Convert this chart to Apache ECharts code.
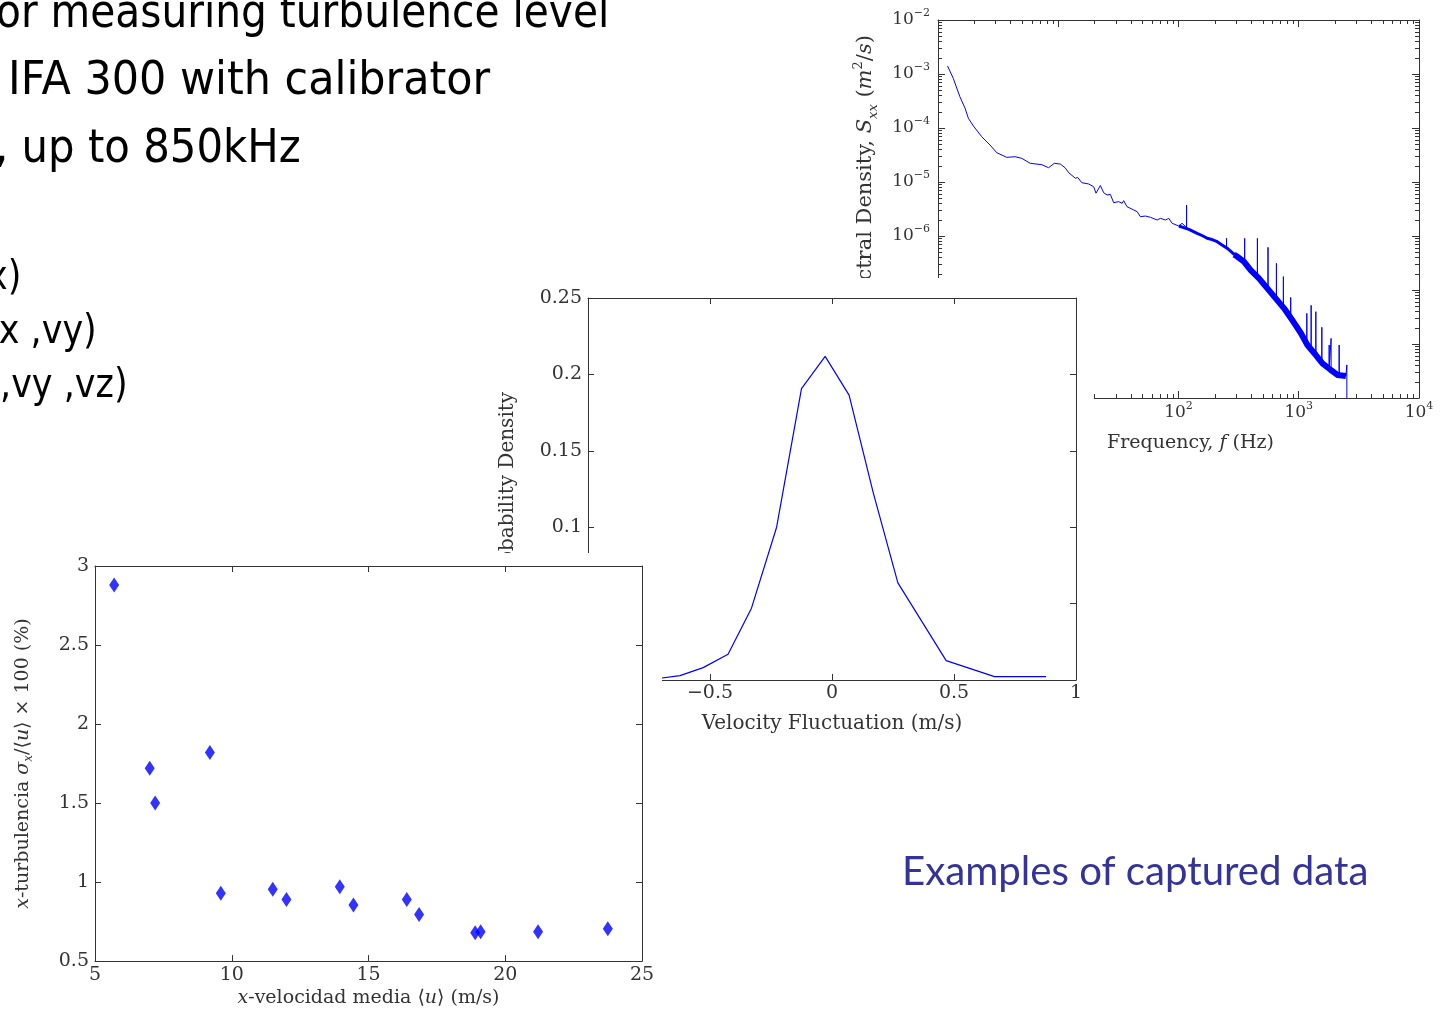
<!DOCTYPE html>
<html>
<head>
<meta charset="utf-8">
<title>Turbulence measurements</title>
<script src="https://cdn.jsdelivr.net/npm/echarts@6/dist/echarts.min.js"></script>
<style>
  html, body { margin: 0; padding: 0; background: #fff; width: 1445px; height: 1013px; overflow: hidden; }
  .panel { position: absolute; }
  #slide    { left: 0;     top: 0;     width: 1445px; height: 1013px; z-index: 0; }
  #spectrum { left: 840px; top: 0;     width: 605px;  height: 470px;  z-index: 1; }
  #pdf      { left: 490px; top: 278px; width: 604px;  height: 470px;  z-index: 2; background: #fff; }
  #turb     { left: 0;     top: 553px; width: 662px;  height: 460px;  z-index: 3; background: #fff; }
</style>
</head>
<body>
<div id="slide" class="panel"></div>
<div id="spectrum" class="panel"></div>
<div id="pdf" class="panel"></div>
<div id="turb" class="panel"></div>
<script>
// ---------- data ----------
// turbulence intensity vs. mean velocity
const turbVelocity  = [5.7, 7.0, 7.2, 9.2, 9.6, 11.5, 12.0, 13.95, 14.45, 16.4, 16.85, 18.9, 19.1, 21.2, 23.75];
const turbIntensity = [2.88, 1.72, 1.50, 1.82, 0.93, 0.955, 0.89, 0.97, 0.855, 0.89, 0.795, 0.68, 0.685, 0.685, 0.705];

// probability density of the velocity fluctuation
const pdfVelocity = [-0.72, -0.623, -0.528, -0.426, -0.33, -0.227, -0.125, -0.028, 0.07, 0.17, 0.27, 0.468, 0.666, 0.877];
const pdfDensity  = [0.0008, 0.0029, 0.0081, 0.0169, 0.047, 0.100, 0.1907, 0.2118, 0.1864, 0.122, 0.0636, 0.0127, 0.0022, 0.0022];

// power spectral density [f (Hz), Sxx (m^2/s)], including the narrow spikes
const spectrumTrace = [
  [1.20,1.41e-3],[1.34,8.3e-4],[1.52,3.8e-4],[1.68,2.32e-4],[1.79,1.51e-4],[1.97,1.09e-4],
  [2.31,6.9e-5],[2.71,4.84e-5],[3.08,3.49e-5],[3.73,2.86e-5],[4.39,2.94e-5],[4.98,2.74e-5],
  [5.85,2.22e-5],[7.31,2.09e-5],[8.30,1.84e-5],[8.69,1.98e-5],[9.27,2.22e-5],[10.4,2.15e-5],
  [11.4,1.84e-5],[12.2,1.49e-5],[13.9,1.17e-5],[14.5,1.22e-5],[15.7,9.7e-6],[17.9,9.2e-6],
  [19.7,8.2e-6],[20.6,6.2e-6],[22.4,8.6e-6],[23.9,6.3e-6],[25.5,5.75e-6],[27.1,5.9e-6],
  [28.9,4.14e-6],[31.8,4.33e-6],[34.0,4.03e-6],[35.0,4.51e-6],[37.3,3.49e-6],[42.5,3.03e-6],
  [45.3,2.82e-6],[48.2,2.28e-6],[53.1,2.34e-6],[58.5,2.22e-6],[66.4,1.98e-6],[70.8,2.12e-6],
  [78.0,1.98e-6],[83.0,2.12e-6],[88.5,1.72e-6],[100.7,1.53e-6],[107,1.72e-6],
  [116.7,1.45e-6],[116.7,3.75e-6],[116.7,1.45e-6],[122,1.33e-6],[143,1.12e-6],[173,9.06e-7],
  [210,7.85e-7],[251,6.0e-7],[251,9.06e-7],[251,6.0e-7],[308,4.17e-7],
  [355,3.3e-7],[355,9.06e-7],[355,3.3e-7],[398,2.34e-7],
  [453,1.8e-7],[453,9.06e-7],[453,1.8e-7],
  [555,1.04e-7],[555,6.17e-7],[555,1.04e-7],
  [652,6.8e-8],[652,3.12e-7],[652,6.8e-8],
  [745,4.7e-8],[745,1.77e-7],[745,4.7e-8],
  [857,3.0e-8],[857,7.3e-8],[857,3.0e-8],[1040,1.6e-8],
  [1167,1.0e-8],[1167,3.7e-8],[1167,1.0e-8],
  [1268,7.9e-9],[1268,5.2e-8],[1268,7.9e-9],
  [1387,6.25e-9],[1387,3.97e-8],[1387,6.25e-9],
  [1556,4.5e-9],[1556,2.04e-8],[1556,4.5e-9],
  [1791,3.47e-9],[1791,9.6e-9],[1791,3.47e-9],
  [1858,3.3e-9],[1858,1.27e-8],[1858,3.3e-9],
  [2168,2.64e-9],[2168,9.6e-9],[2168,2.64e-9],
  [2466,2.55e-9],[2512,4.1e-9],[2512,1.0e-9]
];
// centre of the dense noise band at higher frequencies
const spectrumBandNarrow = [
  [100.7,1.53e-6],[122,1.33e-6],[143,1.12e-6],[160,1.0e-6],[173,9.06e-7],[190,8.6e-7],
  [210,7.85e-7],[230,6.8e-7],[255,5.9e-7],[280,4.9e-7],[308,4.17e-7]
];
const spectrumBandWide = [
  [290,4.5e-7],[308,4.17e-7],[350,3.35e-7],[398,2.34e-7],[467,1.64e-7],[548,1.07e-7],
  [643,7.0e-8],[755,4.58e-8],[885,2.75e-8],[1040,1.6e-8],[1180,9.6e-9],[1387,6.25e-9],
  [1574,4.39e-9],[1849,3.3e-9],[2099,2.67e-9],[2466,2.55e-9]
];

// axis ranges
const freqMin = 1, freqMax = 1e4;
const densityMin = 1e-9, densityMax = 1e-2;

// ---------- shared styles ----------
const serif = 'DejaVu Serif';
const ink = '#333';
const boxLine = { show: true, onZero: false, lineStyle: { color: ink, width: 1 } };
const innerTick = len => ({ show: true, inside: true, length: len, lineStyle: { color: ink, width: 1 } });
const minusSign = v => String(v).replace('-', '\u2212');

// ---------- slide text ----------
const slideLine = (text, x, y, size, sx) => ({
  type: 'text', x: x, y: y, scaleX: sx,
  style: { text: text, fontFamily: 'DejaVu Sans', fontSize: size, fill: '#000', verticalAlign: 'middle' }
});
const slide = echarts.init(document.getElementById('slide'));
slide.setOption({
  animation: false,
  graphic: [
    slideLine('or measuring turbulence level', -4, 15, 47, 0.866),
    slideLine('IFA 300 with calibrator', 8, 82, 47, 0.913),
    slideLine(', up to 850kHz', -5, 150, 47, 0.89),
    slideLine('x)', -13, 279, 40, 0.875),
    slideLine('vx ,vy)', -22, 333, 40, 0.875),
    slideLine(',vy ,vz)', 0, 387, 40, 0.875),
    {
      type: 'text', x: 902, y: 872, scaleX: 0.98,
      style: { text: 'Examples of captured data', fontFamily: 'Lato', fontSize: 41, fill: '#333399', verticalAlign: 'middle' }
    }
  ]
});

// ---------- power spectrum ----------
const freqMinorTicks = [];
for (let d = 0; d < 4; d++) for (let m = 2; m <= 9; m++) freqMinorTicks.push(m * Math.pow(10, d));
const densityMinorTicks = [];
for (let d = -9; d < -2; d++) for (let m = 2; m <= 9; m++) densityMinorTicks.push(m * Math.pow(10, d));

const decadeLabel = v => '10{e|' + minusSign(Math.round(Math.log10(v))) + '}';
const decadeRich = { e: { fontFamily: serif, fontSize: 11, lineHeight: 12, verticalAlign: 'top', color: ink } };

function drawMinorTicks(params, api) {
  const lo = api.coord([freqMin, densityMin]);
  const hi = api.coord([freqMax, densityMax]);
  const seg = (x1, y1, x2, y2) => ({ type: 'line', shape: { x1, y1, x2, y2 }, style: { stroke: ink, lineWidth: 1 } });
  const kids = [];
  freqMinorTicks.forEach(f => {
    const x = Math.round(api.coord([f, densityMin])[0]) + 0.5;
    kids.push(seg(x, lo[1], x, lo[1] - 4), seg(x, hi[1], x, hi[1] + 4));
  });
  densityMinorTicks.forEach(s => {
    const y = Math.round(api.coord([freqMin, s])[1]) + 0.5;
    kids.push(seg(lo[0], y, lo[0] + 4, y), seg(hi[0], y, hi[0] - 4, y));
  });
  return { type: 'group', children: kids };
}

const logAxis = (min, max, pos, extra) => Object.assign({
  type: 'log', logBase: 10, min: min, max: max, position: pos,
  axisLine: boxLine, axisTick: innerTick(7), splitLine: { show: false },
  axisLabel: { show: false }
}, extra || {});

const spectrum = echarts.init(document.getElementById('spectrum'));
spectrum.setOption({
  animation: false,
  textStyle: { fontFamily: serif },
  grid: { left: 98, top: 20, width: 481, height: 378 },
  xAxis: [
    logAxis(freqMin, freqMax, 'bottom', {
      axisLabel: { show: true, formatter: decadeLabel, rich: decadeRich, fontFamily: serif, fontSize: 17, lineHeight: 24, color: ink, margin: 3 },
      name: 'Frequency, {i|f} (Hz)', nameLocation: 'middle', nameGap: 36,
      nameTextStyle: { fontFamily: serif, fontSize: 19, color: ink, padding: [0, 0, 0, 24],
        rich: { i: { fontFamily: serif, fontStyle: 'italic', fontSize: 19, color: ink } } }
    }),
    logAxis(freqMin, freqMax, 'top')
  ],
  yAxis: [
    logAxis(densityMin, densityMax, 'left', {
      axisLabel: { show: true, formatter: decadeLabel, rich: decadeRich, fontFamily: serif, fontSize: 17, lineHeight: 24, color: ink, margin: 8 },
      name: 'Spectral Density, {i|S}{sub|xx} ({i|m}{sup|2}/{i|s})', nameLocation: 'middle', nameGap: 58,
      nameTextStyle: { fontFamily: serif, fontSize: 21, color: ink, lineHeight: 28, padding: [0, 0, 0, 62],
        rich: {
          i: { fontFamily: serif, fontStyle: 'italic', fontSize: 21, color: ink },
          sub: { fontFamily: serif, fontStyle: 'italic', fontSize: 13, lineHeight: 13, verticalAlign: 'bottom', color: ink },
          sup: { fontFamily: serif, fontSize: 13, lineHeight: 13, verticalAlign: 'top', color: ink }
        } }
    }),
    logAxis(densityMin, densityMax, 'right')
  ],
  series: [
    { type: 'line', data: spectrumTrace, showSymbol: false, silent: true,
      lineStyle: { color: '#0000ff', width: 1 } },
    { type: 'line', data: spectrumBandNarrow, showSymbol: false, silent: true,
      lineStyle: { color: '#0000ff', width: 3, join: 'round' } },
    { type: 'line', data: spectrumBandWide, showSymbol: false, silent: true,
      lineStyle: { color: '#0000ff', width: 6, join: 'round' } },
    { type: 'custom', renderItem: drawMinorTicks, data: [[freqMin, densityMin]], silent: true }
  ]
});

// ---------- probability density ----------
const valueAxis = (min, max, step, pos, extra) => Object.assign({
  type: 'value', min: min, max: max, interval: step, position: pos,
  axisLine: boxLine, axisTick: innerTick(6), splitLine: { show: false },
  axisLabel: { show: false }
}, extra || {});
const tickLabel = (margin) => ({ show: true, fontFamily: serif, fontSize: 19, color: ink, margin: margin, formatter: minusSign });

const pdf = echarts.init(document.getElementById('pdf'));
pdf.setOption({
  animation: false,
  backgroundColor: '#fff',
  textStyle: { fontFamily: serif },
  grid: { left: 98, top: 20, width: 488, height: 382 },
  xAxis: [
    valueAxis(-1, 1, 0.5, 'bottom', {
      axisLabel: tickLabel(4),
      name: 'Velocity Fluctuation (m/s)', nameLocation: 'middle', nameGap: 34,
      nameTextStyle: { fontFamily: serif, fontSize: 20, color: ink }
    }),
    valueAxis(-1, 1, 0.5, 'top')
  ],
  yAxis: [
    valueAxis(0, 0.25, 0.05, 'left', {
      axisLabel: tickLabel(6),
      name: 'Probability Density', nameLocation: 'middle', nameGap: 70,
      nameTextStyle: { fontFamily: serif, fontSize: 20, color: ink }
    }),
    valueAxis(0, 0.25, 0.05, 'right')
  ],
  series: [
    { type: 'line', data: pdfVelocity.map((v, i) => [v, pdfDensity[i]]), showSymbol: false, silent: true,
      lineStyle: { color: '#0000ff', width: 1.2 } }
  ]
});

// ---------- turbulence intensity ----------
const turb = echarts.init(document.getElementById('turb'));
const nameRich = {
  i: { fontFamily: serif, fontStyle: 'italic', fontSize: 19, color: ink },
  sub: { fontFamily: serif, fontStyle: 'italic', fontSize: 12, lineHeight: 12, verticalAlign: 'bottom', color: ink }
};
turb.setOption({
  animation: false,
  backgroundColor: '#fff',
  textStyle: { fontFamily: serif },
  grid: { left: 95, top: 13, width: 547, height: 398 },
  xAxis: [
    valueAxis(5, 25, 5, 'bottom', {
      axisLabel: tickLabel(4),
      name: '{i|x}-velocidad media \u27E8{i|u}\u27E9 (m/s)', nameLocation: 'middle', nameGap: 25,
      nameTextStyle: { fontFamily: serif, fontSize: 19, color: ink, rich: nameRich }
    }),
    valueAxis(5, 25, 5, 'top')
  ],
  yAxis: [
    valueAxis(0.5, 3, 0.5, 'left', {
      axisLabel: tickLabel(6),
      name: '{i|x}-turbulencia {i|\u03C3}{sub|x}/\u27E8{i|u}\u27E9 \u00D7 100 (%)', nameLocation: 'middle', nameGap: 60,
      nameTextStyle: { fontFamily: serif, fontSize: 19, color: ink, lineHeight: 24, rich: nameRich }
    }),
    valueAxis(0.5, 3, 0.5, 'right')
  ],
  series: [
    { type: 'scatter', data: turbVelocity.map((v, i) => [v, turbIntensity[i]]), symbol: 'diamond',
      symbolSize: [10, 15], itemStyle: { color: '#0000ff' }, silent: true }
  ]
});
</script>
</body>
</html>
